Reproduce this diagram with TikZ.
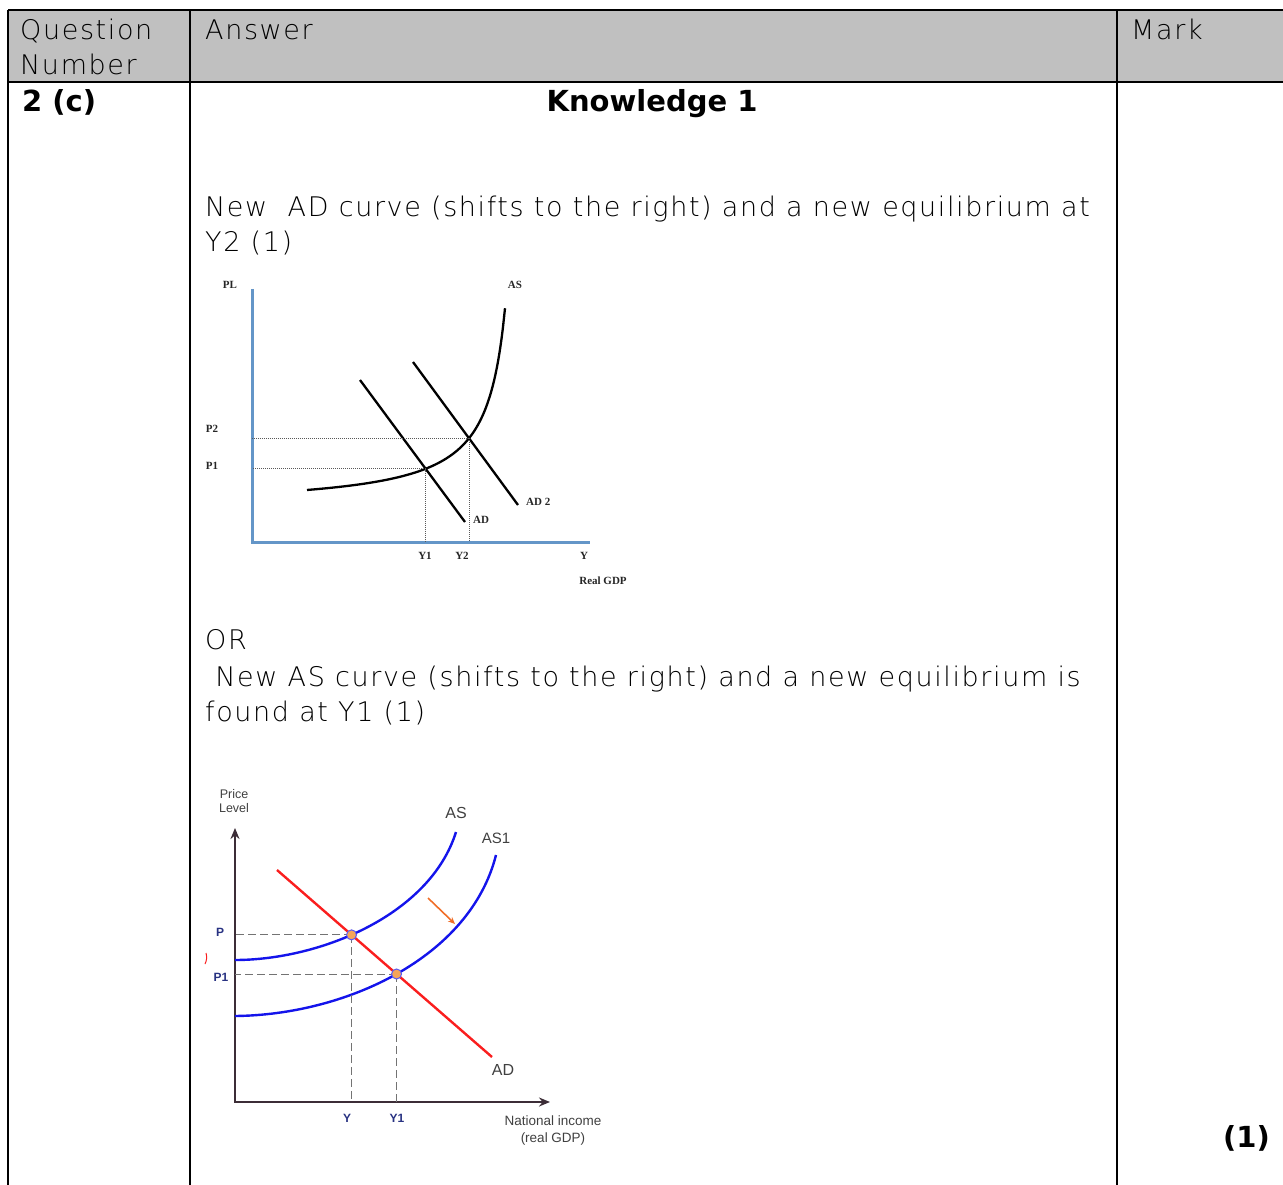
\documentclass[tikz,border=0pt]{standalone}
\usepackage{fontspec}
\setmainfont{DejaVu Sans}
\newfontfamily\thinfont[LetterSpace=6]{DejaVu Sans ExtraLight}
\newfontfamily\gserif{Liberation Serif}
\newfontfamily\gsans{Liberation Sans}
\usetikzlibrary{arrows.meta,intersections}
\definecolor{hdrgray}{RGB}{192,192,192}
\definecolor{axisblue}{RGB}{100,150,200}
\definecolor{curveblue}{RGB}{20,20,235}
\definecolor{adred}{RGB}{250,30,30}
\definecolor{axisdark}{RGB}{60,45,55}
\definecolor{dotorange}{RGB}{245,165,90}
\definecolor{arroworange}{RGB}{240,110,40}
\definecolor{lblblue}{RGB}{40,50,130}
\begin{document}
\begin{tikzpicture}[x=1pt,y=-1pt,
  tline/.style={line width=2pt,black},
  body/.style={font=\thinfont\fontsize{27}{35}\selectfont,anchor=base west,inner sep=0pt},
  boldtxt/.style={font=\bfseries\fontsize{29}{34}\selectfont,inner sep=0pt,anchor=base west},
  gone/.style={font=\gserif\bfseries\fontsize{11}{12}\selectfont,inner sep=0pt,text=black!85},
  gtwo/.style={font=\gsans\fontsize{14}{16}\selectfont,inner sep=0pt,text=black!75},
  gtwob/.style={font=\gsans\bfseries\fontsize{12}{14}\selectfont,inner sep=0pt,text=lblblue},
  blackcurve/.style={line width=2.3pt,black},
  dotg/.style={densely dotted,line width=1pt,black!65},
  dashg/.style={dash pattern=on 8pt off 4pt,line width=1pt,black!55},
  bluecurve/.style={line width=2.4pt,curveblue},
  redline/.style={line width=2.4pt,adred}]
\useasboundingbox (0,0) rectangle (1283,1185);
% table
\fill[hdrgray] (8,10) rectangle (1283,82);
\draw[tline] (8,10) -- (1283,10);
\draw[line width=2.5pt] (8,82) -- (1283,82);
\draw[tline] (8,10) -- (8,1185);
\draw[tline] (190,10) -- (190,1185);
\draw[tline] (1117,10) -- (1117,1185);
% header
\node[body] (hq) at (20,40) {Question};
\node[body] (hn) at (20,75) {Number};
\node[body] (ha) at (205,40) {Answer};
\node[body] (hm) at (1131,40) {Mark};
\node[boldtxt] (qn) at (22,112) {2 (c)};
\node[boldtxt,anchor=base] (kn) at (652,112) {Knowledge 1};
\node[body] (t1) at (205,217) {New\ \ AD curve (shifts to the right) and a new equilibrium at};
\node[body] (t2) at (205,252) {Y2 (1)};
\node[body] (t3) at (205,649) {OR};
\node[body] (t4) at (205,686) {\ New AS curve (shifts to the right) and a new equilibrium is};
\node[body] (t5) at (205,721) {found at Y1 (1)};
\node[boldtxt,anchor=base east] (mk) at (1270,1147) {(1)};
% graph 1
\coordinate (o1) at (252,542);
\draw[line width=3pt,axisblue] (252,289) -- (o1) -- (590,542);
\draw[blackcurve,name path=as1] plot[domain=307:505,samples=80,smooth] (\x,{507.6-3828/(524.2-\x)});
\draw[blackcurve,name path=ad1] (360,380) -- (465,522);
\draw[blackcurve,name path=ad2] (413,362) -- (518,505);
\path[name intersections={of=as1 and ad1,by=e1}];
\path[name intersections={of=as1 and ad2,by=e2}];
\draw[dotg] (e1) -- (e1 -| o1);
\draw[dotg] (e1) -- (e1 |- o1);
\draw[dotg] (e2) -- (e2 -| o1);
\draw[dotg] (e2) -- (e2 |- o1);
\node[gone] (pl) at (230,285) {PL};
\node[gone] (asl) at (515,285) {AS};
\node[gone] (p2) at (212,429) {P2};
\node[gone] (p1) at (212,466) {P1};
\node[gone,anchor=west] (adl) at (473,520) {AD};
\node[gone,anchor=west] (ad2l) at (526,502) {AD 2};
\node[gone] (y1) at (425,556) {Y1};
\node[gone] (y2) at (462,556) {Y2};
\node[gone] (yl) at (584,556) {Y};
\node[gone] (rg) at (603,581) {Real GDP};
% graph 2
\coordinate (o2) at (235,1102);
\draw[line width=2pt,axisdark,{Stealth[length=11pt,width=9pt]}-{Stealth[length=11pt,width=9pt]}] (235,828) -- (o2) -- (550,1102);
\draw[bluecurve,name path=asa] (235,960) .. controls (320,960) and (430,915) .. (456,832);
\draw[bluecurve,name path=asb] (235,1016) .. controls (345,1015) and (470,958) .. (496,855);
\draw[redline,name path=adr] (277,870) -- (492,1057);
\path[name intersections={of=asa and adr,by=f1}];
\path[name intersections={of=asb and adr,by=f2}];
\draw[dashg] (f1) -- (f1 -| o2);
\draw[dashg] (f1) -- (f1 |- o2);
\draw[dashg] (f2) -- (f2 -| o2);
\draw[dashg] (f2) -- (f2 |- o2);
\filldraw[fill=dotorange,draw=curveblue!70,line width=1pt] (f1) circle[radius=5pt];
\filldraw[fill=dotorange,draw=curveblue!70,line width=1pt] (f2) circle[radius=5pt];
\draw[line width=1.6pt,arroworange,-{Stealth[length=7pt,width=6pt]}] (428,898) -- (455,924);
\draw[adred,line width=1pt] (206,953) to[bend left=20] (205,964);
\node[gtwo,font=\gsans\fontsize{12.5}{14}\selectfont,align=center] (pr) at (234,801) {Price\\Level};
\node[gtwo,font=\gsans\fontsize{16}{18}\selectfont] (asa2) at (456,813) {AS};
\node[gtwo,font=\gsans\fontsize{15}{18}\selectfont] (asb2) at (496,838) {AS1};
\node[gtwo,font=\gsans\fontsize{16}{18}\selectfont] (adr2) at (503,1070) {AD};
\node[gtwob] (pp) at (220,932) {P};
\node[gtwob] (pp1) at (221,977) {P1};
\node[gtwob] (yy) at (347,1118) {Y};
\node[gtwob] (yy1) at (397,1118) {Y1};
\node[gtwo,font=\gsans\fontsize{13.5}{17}\selectfont,align=center] (ni) at (553,1130) {National income\\(real GDP)};
\end{tikzpicture}
\end{document}
